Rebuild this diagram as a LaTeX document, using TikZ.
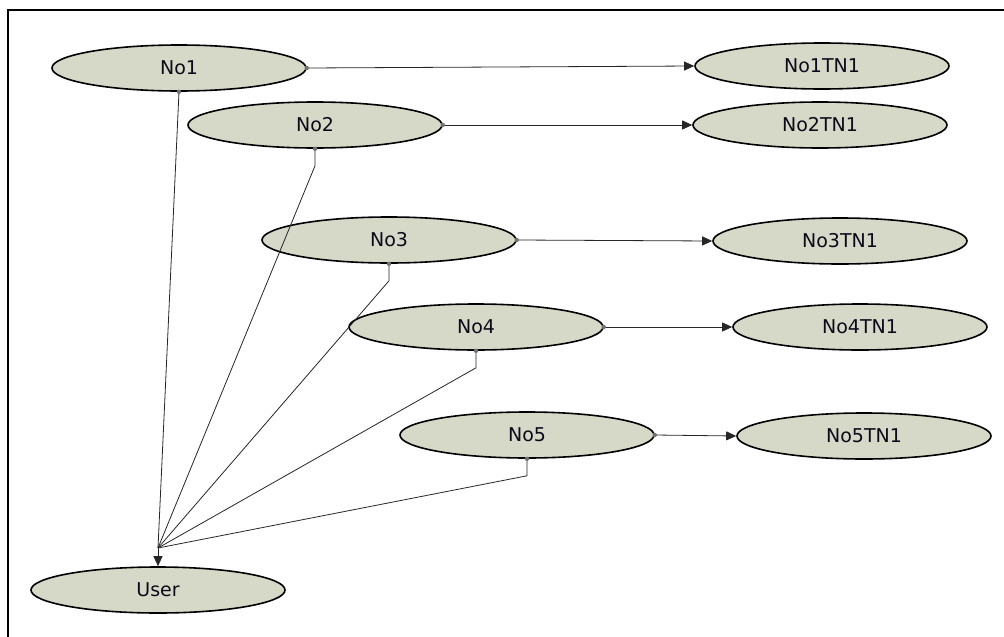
\documentclass[tikz,border=0pt]{standalone}
\usepackage{fontspec}
\setmainfont{DejaVu Sans}
\usetikzlibrary{shapes.geometric,arrows.meta}
\definecolor{nodefill}{RGB}{214,217,199}
\definecolor{textcol}{RGB}{10,10,25}
\begin{document}
\begin{tikzpicture}[x=1pt,y=-1pt,
  entity/.style={ellipse, draw=black, line width=1.6pt, fill=nodefill,
    minimum width=254pt, minimum height=46pt, inner sep=0pt,
    text=textcol, font=\fontsize{19}{21}\selectfont},
  link/.style={draw=black!85, line width=0.8pt},
  flow/.style={link, -{Triangle[length=10pt,width=9pt]}},
  portdot/.style={fill=black!55}
]
\useasboundingbox (0,0) rectangle (1004,637);
% frame
\draw[line width=1.5pt] (8,637) -- (8,10) -- (1004,10);

% source nodes
\node[entity] (no1) at (179,68)  {No1};
\node[entity] (no2) at (315,125) {No2};
\node[entity] (no3) at (389,240) {No3};
\node[entity] (no4) at (476,327) {No4};
\node[entity] (no5) at (527,435) {No5};

% target nodes
\node[entity] (t1) at (822,66)  {No1TN1};
\node[entity] (t2) at (820,125) {No2TN1};
\node[entity] (t3) at (840,241) {No3TN1};
\node[entity] (t4) at (860,327) {No4TN1};
\node[entity] (t5) at (864,436) {No5TN1};

\node[entity] (user) at (158,590) {User};

% horizontal links
\foreach \s/\t in {no1/t1,no2/t2,no3/t3,no4/t4,no5/t5}{
  \draw[flow] (\s.east) -- (\t.west);
  \fill[portdot] (\s.east) circle (2.2pt);
}

% links gathering into the user node
\coordinate (hub) at (158,548);
\draw[link] (no1.south) -- (hub);
\foreach \s in {no2,no3,no4,no5}{
  \draw[link] (\s.south) -- ++(0,17) -- (hub);
}
\foreach \s in {no1,no2,no3,no4,no5}{
  \fill[portdot] (\s.south) circle (2.2pt);
}
\draw[flow] (hub) -- (user.north);
\end{tikzpicture}
\end{document}
